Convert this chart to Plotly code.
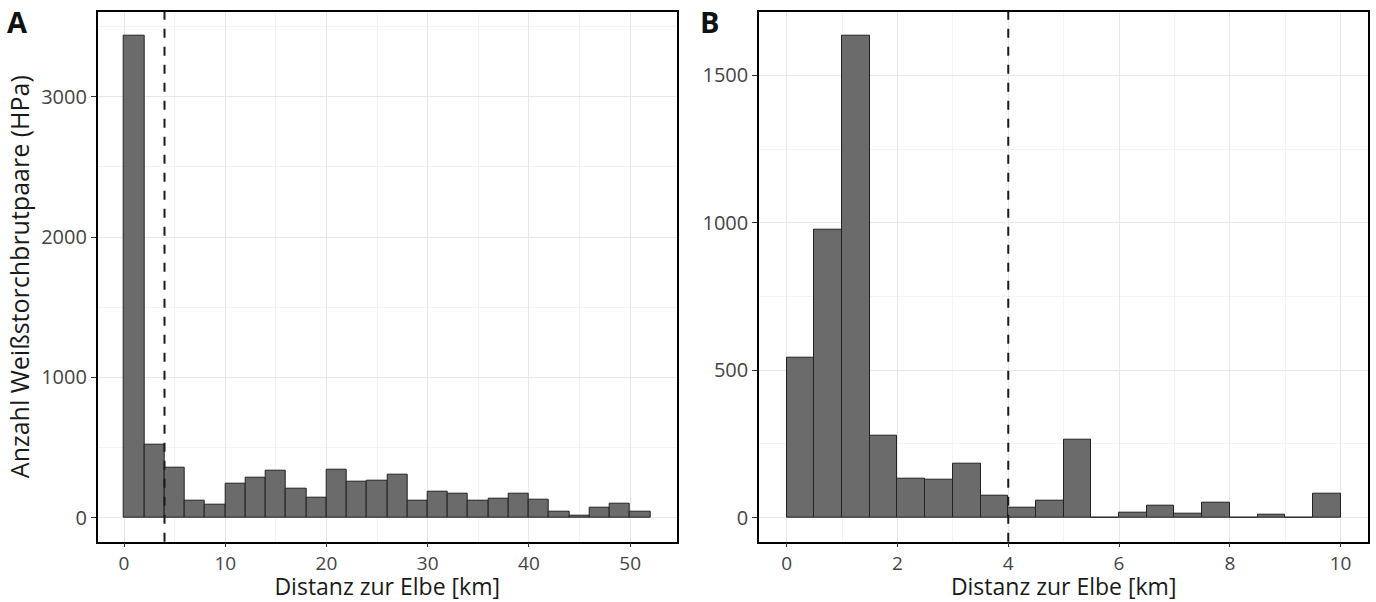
import plotly.graph_objects as go

# Panel A: 2 km bins, 0-52 km
a_bin_start = [0, 2, 4, 6, 8, 10, 12, 14, 16, 18, 20, 22, 24, 26, 28, 30, 32, 34, 36, 38, 40, 42, 44, 46, 48, 50]
a_counts = [3435, 518, 354, 121, 90, 242, 285, 333, 204, 140, 340, 254, 266, 309, 119, 188, 169, 124, 133, 171, 128, 43, 12, 69, 102, 45]
a_bin_width = 2

# Panel B: 0.5 km bins, 0-10 km
b_bin_start = [0, 0.5, 1, 1.5, 2, 2.5, 3, 3.5, 4, 4.5, 5, 5.5, 6, 6.5, 7, 7.5, 8, 8.5, 9, 9.5]
b_counts = [543, 976, 1634, 277, 133, 127, 183, 74, 35, 59, 263, 0, 18, 42, 12, 50, 0, 11, 0, 82]
b_bin_width = 0.5

cutoff_km = 4

FONT = "Open Sans"
BAR_FILL = "#6b6b6b"
BAR_EDGE = "#222222"
GRID_MAJOR = "#e8e8e8"
GRID_MINOR = "#f3f3f3"
TICK_COLOR = "#333333"
YTITLE_FONT = dict(family=FONT, size=25, color="#1a1a1a")
XTITLE_FONT = dict(family=FONT, size=23, color="#1a1a1a")

fig = go.Figure()

fig.add_trace(go.Bar(
    x=[s + a_bin_width / 2 for s in a_bin_start], y=a_counts, width=a_bin_width,
    marker=dict(color=BAR_FILL, line=dict(color=BAR_EDGE, width=1)),
    xaxis="x", yaxis="y", showlegend=False, hoverinfo="x+y",
))
fig.add_trace(go.Bar(
    x=[s + b_bin_width / 2 for s in b_bin_start], y=b_counts, width=b_bin_width,
    marker=dict(color=BAR_FILL, line=dict(color=BAR_EDGE, width=1)),
    xaxis="x2", yaxis="y2", showlegend=False, hoverinfo="x+y",
))

def pad(lo, hi, f=0.05):
    d = (hi - lo) * f
    return [lo - d, hi + d]

a_xmax = a_bin_start[-1] + a_bin_width
b_xmax = b_bin_start[-1] + b_bin_width

W, H = 1376, 602
ydom = [(H - 541.7) / H, (H - 11.7) / H]

axis_common = dict(
    showline=True, mirror=True, linecolor="#000000", linewidth=1.5,
    showgrid=True, gridcolor=GRID_MAJOR, gridwidth=1.2,
    ticks="outside", ticklen=5, tickcolor=TICK_COLOR, tickwidth=1,
    tickfont=dict(family=FONT, size=20, color="#444444"),
    zeroline=False,
)
xaxis_common = {**axis_common, "ticklen": 4,
                "tickfont": dict(family=FONT, size=19, color="#444444")}

fig.update_layout(
    width=W, height=H,
    margin=dict(l=0, r=0, t=0, b=0),
    paper_bgcolor="white", plot_bgcolor="white",
    bargap=0,
    font=dict(family=FONT, color="#1a1a1a"),
    xaxis=dict(
        domain=[97.7 / W, 676.7 / W], anchor="y",
        range=pad(0, a_xmax), tickmode="linear", tick0=0, dtick=10,
        minor=dict(showgrid=True, gridcolor=GRID_MINOR, gridwidth=0.8, dtick=5, tick0=0, ticks=""),
        title=dict(text="Distanz zur Elbe [km]", font=XTITLE_FONT, standoff=6),
        **xaxis_common,
    ),
    yaxis=dict(
        domain=ydom, anchor="x",
        range=pad(0, max(a_counts)), tickmode="linear", tick0=0, dtick=1000,
        minor=dict(showgrid=True, gridcolor=GRID_MINOR, gridwidth=0.8, dtick=500, tick0=0, ticks=""),
        title=dict(text="Anzahl Weißstorchbrutpaare (HPa)", font=YTITLE_FONT, standoff=4),
        **axis_common,
    ),
    xaxis2=dict(
        domain=[759 / W, 1368.3 / W], anchor="y2",
        range=pad(0, b_xmax), tickmode="linear", tick0=0, dtick=2,
        minor=dict(showgrid=True, gridcolor=GRID_MINOR, gridwidth=0.8, dtick=1, tick0=0, ticks=""),
        title=dict(text="Distanz zur Elbe [km]", font=XTITLE_FONT, standoff=6),
        **xaxis_common,
    ),
    yaxis2=dict(
        domain=ydom, anchor="x2",
        range=pad(0, max(b_counts)), tickmode="linear", tick0=0, dtick=500,
        minor=dict(showgrid=True, gridcolor=GRID_MINOR, gridwidth=0.8, dtick=250, tick0=0, ticks=""),
        **axis_common,
    ),
)

# dashed reference line at the cutoff distance in both panels
for xr, yr in (("x", "y"), ("x2", "y2")):
    fig.add_shape(
        type="line", xref=xr, yref=f"{yr} domain",
        x0=cutoff_km, x1=cutoff_km, y0=0, y1=1,
        line=dict(color="#1a1a1a", width=2, dash="dash"),
        layer="above",
    )

# panel letters
fig.add_annotation(text="<b>A</b>", xref="paper", yref="paper", x=5 / W, y=1.0,
                   xanchor="left", yanchor="top", showarrow=False,
                   font=dict(family=FONT, size=29, color="#111111"))
fig.add_annotation(text="<b>B</b>", xref="paper", yref="paper", x=698 / W, y=1.0,
                   xanchor="left", yanchor="top", showarrow=False,
                   font=dict(family=FONT, size=29, color="#111111"))

fig.write_html("out.html")
